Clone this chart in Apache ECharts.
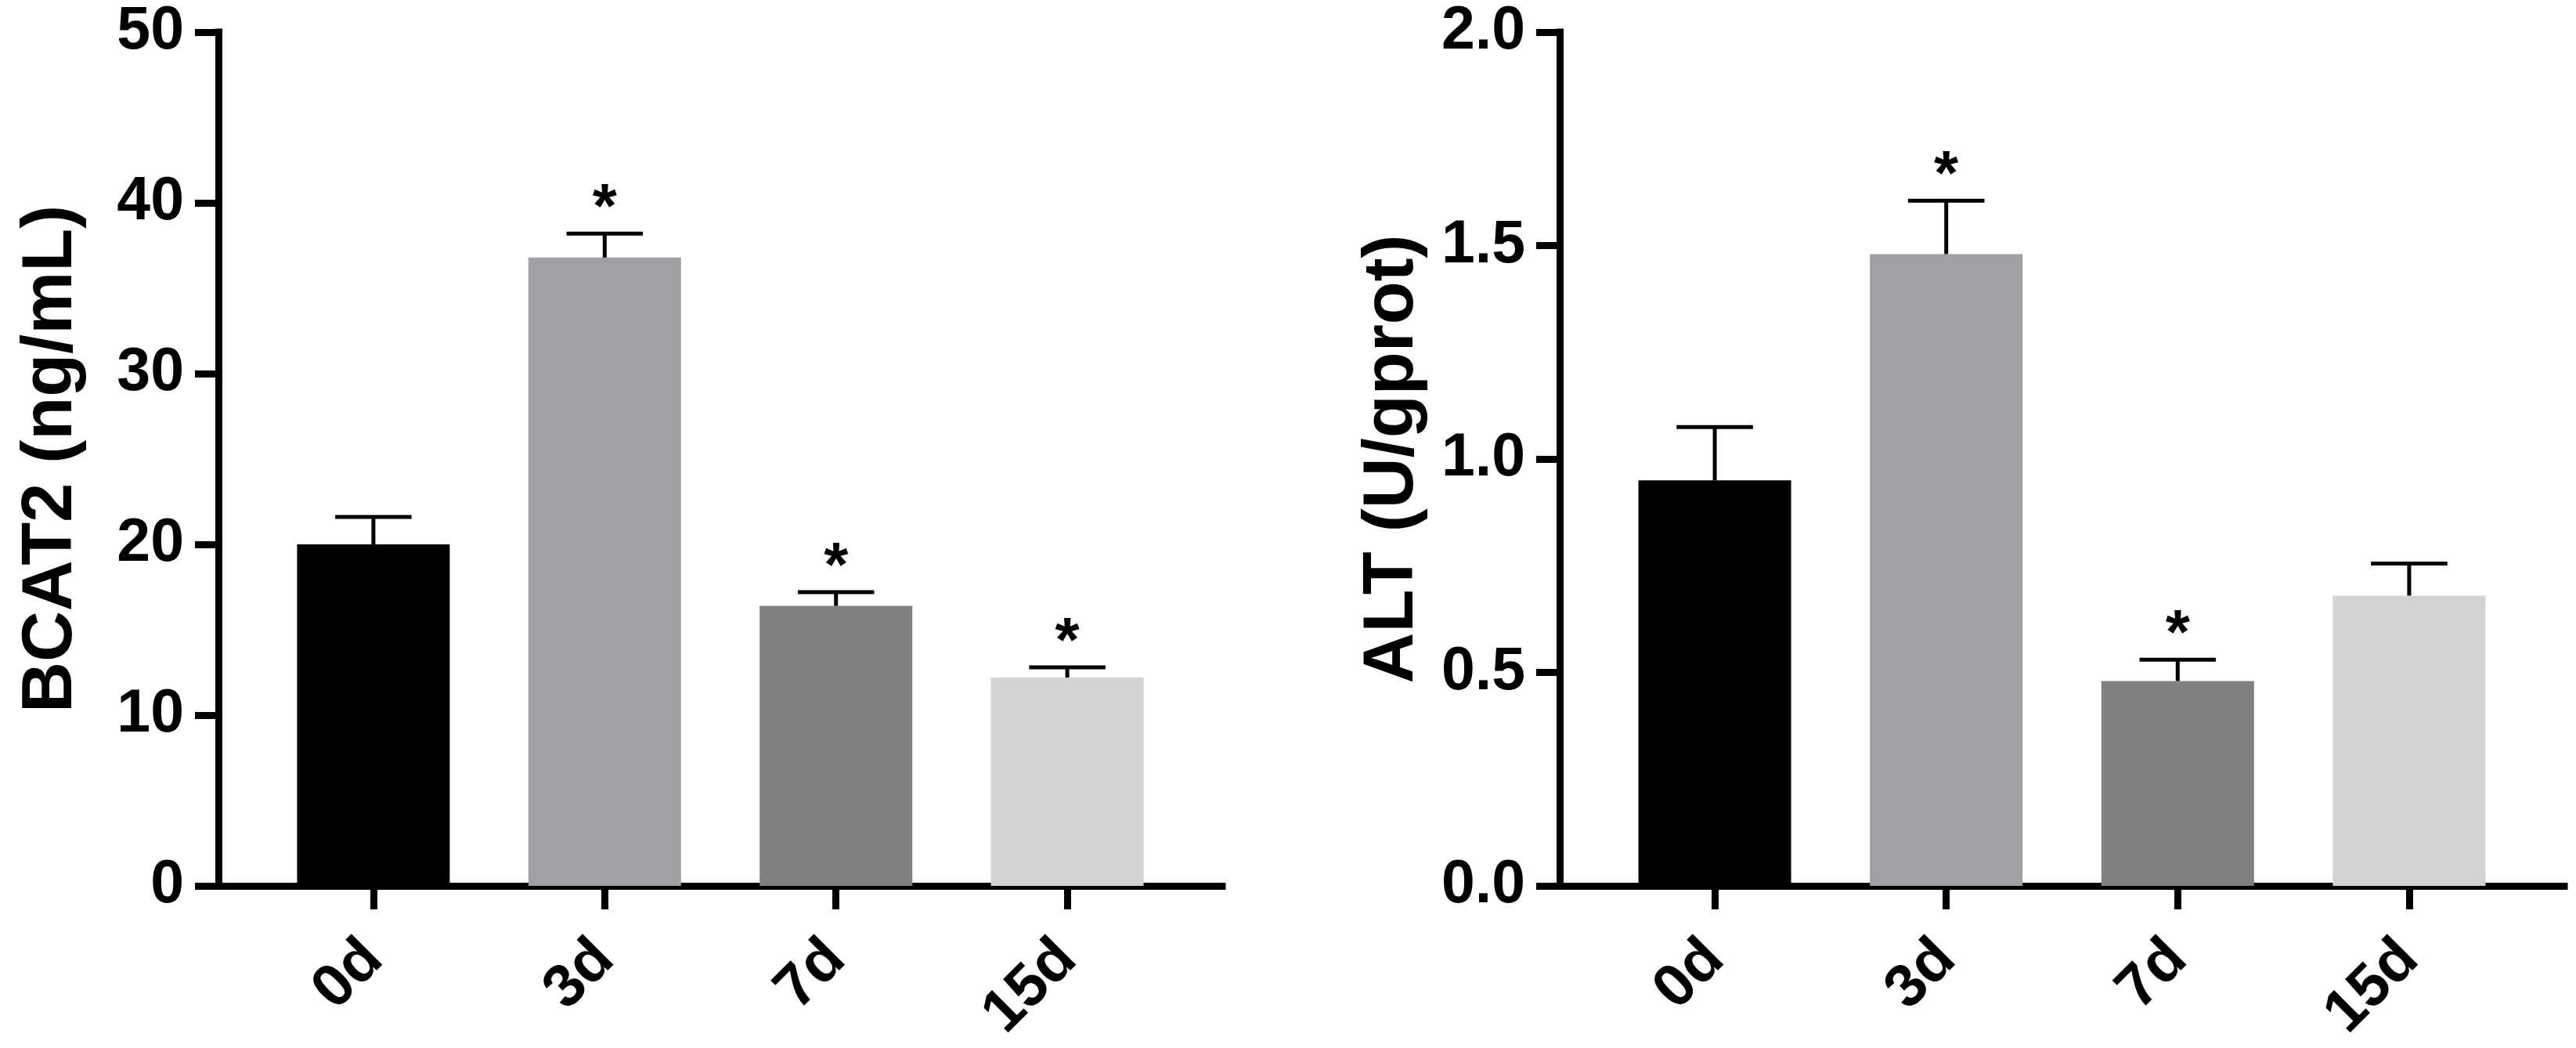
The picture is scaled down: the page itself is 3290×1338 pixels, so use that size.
<!DOCTYPE html>
<html>
<head>
<meta charset="utf-8">
<title>BCAT2 / ALT</title>
<script src="https://cdn.jsdelivr.net/npm/echarts@6/dist/echarts.min.js"></script>
<style>
  html, body { margin: 0; padding: 0; background: #fff; }
  #chart { width: 3290px; height: 1338px; }
</style>
</head>
<body>
<div id="chart"></div>
<script>
var categories = ["0d", "3d", "7d", "15d"];
var barColors = ["#000000", "#a0a0a4", "#808080", "#d3d3d3"];

// left panel
var bcat2Mean = [20.0, 36.8, 16.4, 12.2];
var bcat2Sem = [1.6, 1.4, 0.8, 0.6];
var bcat2Star = [false, true, true, true];
var bcat2Ticks = [0, 10, 20, 30, 40, 50];

// right panel
var altMean = [0.95, 1.48, 0.48, 0.68];
var altSem = [0.125, 0.125, 0.05, 0.075];
var altStar = [false, true, true, false];
var altTicks = [0, 0.5, 1.0, 1.5, 2.0];

var fontFamily = '"Liberation Sans", Arial, sans-serif';
var capWidth = 0.33;

var barData = function (means) {
  var out = [];
  for (var i = 0; i < means.length; i++) {
    out.push({ value: [i, means[i]], itemStyle: { color: barColors[i] } });
  }
  return out;
};

var errData = function (means, sems, stars) {
  var out = [];
  for (var i = 0; i < means.length; i++) {
    out.push([i, means[i], sems[i], stars[i] ? 1 : 0]);
  }
  return out;
};

var renderError = function (params, api) {
  var x = api.value(0);
  var mean = api.value(1);
  var top = mean + api.value(2);
  var base = api.coord([x, mean]);
  var tip = api.coord([x, top]);
  var half = api.size([capWidth, 0])[0] / 2;
  var stroke = { stroke: "#000", lineWidth: 5 };
  var children = [
    { type: "line", shape: { x1: base[0], y1: base[1], x2: tip[0], y2: tip[1] }, style: stroke },
    { type: "line", shape: { x1: tip[0] - half, y1: tip[1], x2: tip[0] + half, y2: tip[1] }, style: stroke },
  ];
  if (api.value(3)) {
    children.push({
      type: "text",
      x: tip[0],
      y: tip[1] - 30,
      style: {
        text: "*",
        fill: "#000",
        font: "bold 80px " + fontFamily,
        align: "center",
        verticalAlign: "middle",
      },
    });
  }
  return { type: "group", children: children };
};

var makeXAxis = function (gridIndex) {
  return {
    gridIndex: gridIndex,
    type: "value",
    min: -0.67,
    max: 3.67,
    splitLine: { show: false },
    axisLine: { show: true, onZero: false, lineStyle: { color: "#000", width: 9, cap: "square" } },
    axisTick: { show: true, customValues: [0, 1, 2, 3], length: 30, lineStyle: { color: "#000", width: 9 } },
    axisLabel: {
      customValues: [0, 1, 2, 3],
      formatter: function (v) {
        return categories[Math.round(v)];
      },
      rotate: 45,
      margin: 82,
      color: "#000",
      fontSize: 77,
      fontWeight: "bold",
      fontFamily: fontFamily,
    },
  };
};

var makeYAxis = function (gridIndex, ticks, name, digits) {
  return {
    gridIndex: gridIndex,
    type: "value",
    min: ticks[0],
    max: ticks[ticks.length - 1],
    interval: ticks[1] - ticks[0],
    splitLine: { show: false },
    axisLine: { show: true, onZero: false, lineStyle: { color: "#000", width: 9, cap: "square" } },
    axisTick: { show: true, length: 30, lineStyle: { color: "#000", width: 9 } },
    axisLabel: {
      margin: 44,
      color: "#000",
      fontSize: 77,
      fontWeight: "bold",
      fontFamily: fontFamily,
      formatter: function (v) {
        return v.toFixed(digits);
      },
    },
    name: name,
    nameLocation: "middle",
    nameRotate: 90,
    nameGap: 168,
    nameTextStyle: {
      color: "#000",
      fontSize: 90,
      fontWeight: "bold",
      fontFamily: fontFamily,
    },
  };
};

var option = {
  animation: false,
  backgroundColor: "#fff",
  grid: [
    { left: 279, top: 41, width: 1282, height: 1090 },
    { left: 1992, top: 41, width: 1283, height: 1090 },
  ],
  xAxis: [makeXAxis(0), makeXAxis(1)],
  yAxis: [
    makeYAxis(0, bcat2Ticks, "BCAT2 (ng/mL)", 0),
    makeYAxis(1, altTicks, "ALT (U/gprot)", 1),
  ],
  series: [
    { type: "bar", xAxisIndex: 0, yAxisIndex: 0, barWidth: 195, data: barData(bcat2Mean), z: 2 },
    { type: "custom", xAxisIndex: 0, yAxisIndex: 0, renderItem: renderError, data: errData(bcat2Mean, bcat2Sem, bcat2Star), z: 3 },
    { type: "bar", xAxisIndex: 1, yAxisIndex: 1, barWidth: 195, data: barData(altMean), z: 2 },
    { type: "custom", xAxisIndex: 1, yAxisIndex: 1, renderItem: renderError, data: errData(altMean, altSem, altStar), z: 3 },
  ],
};

var chart = echarts.init(document.getElementById("chart"));
chart.setOption(option);
</script>
</body>
</html>
